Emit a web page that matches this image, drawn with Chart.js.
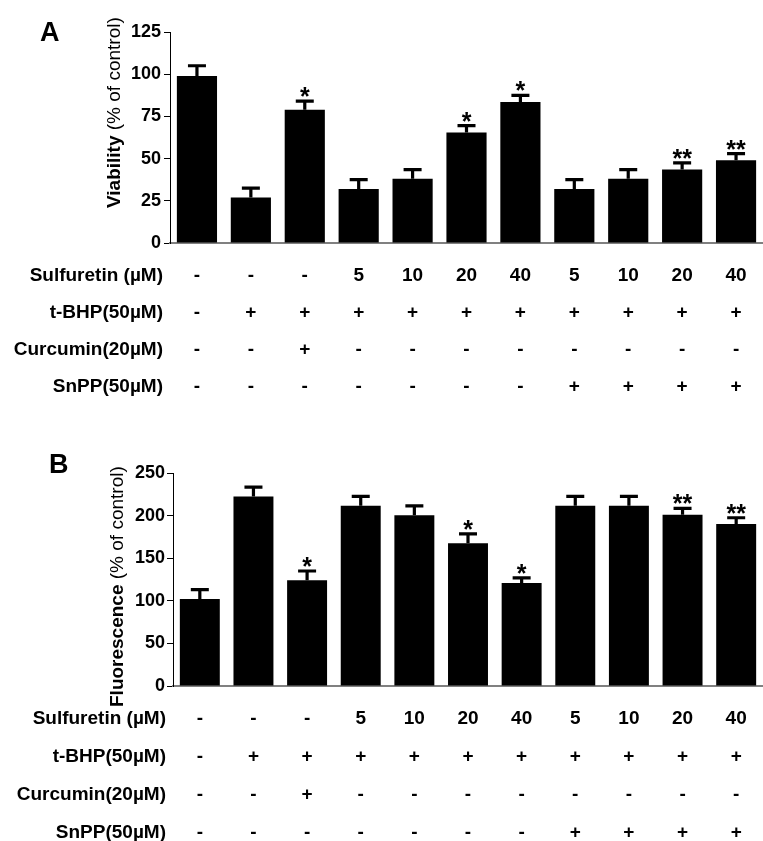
<!DOCTYPE html>
<html>
<head>
<meta charset="utf-8">
<script src="https://cdn.jsdelivr.net/npm/chart.js@4.4.0/dist/chart.umd.min.js"></script>
<style>
  body { margin: 0; background: #fff; }
  #wrap { position: relative; width: 763px; height: 841px; }
  canvas { position: absolute; left: 0; }
</style>
</head>
<body>
<div id="wrap">
  <canvas id="chartA" width="763" height="420" style="top:0px"></canvas>
  <canvas id="chartB" width="763" height="421" style="top:420px"></canvas>
</div>
<script>
// treatment groups (one bar each)
const groups = ['1', '2', '3', '4', '5', '6', '7', '8', '9', '10', '11'];

// treatment table under each panel
const sulfuretin = ['-', '-', '-', '5', '10', '20', '40', '5', '10', '20', '40'];
const tbhp       = ['-', '+', '+', '+', '+', '+', '+', '+', '+', '+', '+'];
const curcumin   = ['-', '-', '+', '-', '-', '-', '-', '-', '-', '-', '-'];
const snpp       = ['-', '-', '-', '-', '-', '-', '-', '+', '+', '+', '+'];

// panel A
const viability    = [99, 27, 79, 32, 38, 65.5, 83.5, 32, 38, 43.5, 49];
const viabilityErr = [6, 5.5, 5, 5.5, 5.5, 4, 4, 5.5, 5.5, 4, 4];
const viabilitySig = ['', '', '*', '', '', '*', '*', '', '', '**', '**'];
const viabilityTicks = [0, 25, 50, 75, 100, 125];

// panel B
const fluorescence    = [102, 222.5, 124, 211.5, 200.5, 167.5, 121, 211.5, 211.5, 201, 190];
const fluorescenceErr = [11, 11, 11, 11, 11, 11, 6, 11, 11, 7.5, 7.5];
const fluorescenceSig = ['', '', '*', '', '', '*', '*', '', '', '**', '**'];
const fluorescenceTicks = [0, 50, 100, 150, 200, 250];

const FONT = '"Liberation Sans", Arial, Helvetica, sans-serif';
Chart.defaults.color = '#000';
Chart.defaults.font.family = FONT;

const tableRows = [
    { label: 'Sulfuretin (\u00b5M)', values: sulfuretin },
    { label: 't-BHP(50\u00b5M)', values: tbhp },
    { label: 'Curcumin(20\u00b5M)', values: curcumin },
    { label: 'SnPP(50\u00b5M)', values: snpp }
];

function makePanel(id, cfg) {
    const panelPlugin = {
        id: 'panel_' + id,
        afterDatasetsDraw(chart) {
            const ctx = chart.ctx;
            const y = chart.scales.y;
            const bars = chart.getDatasetMeta(0).data;
            ctx.save();
            ctx.strokeStyle = '#000';
            ctx.fillStyle = '#000';
            ctx.lineWidth = 3.2;
            bars.forEach((bar, i) => {
                const top = y.getPixelForValue(cfg.values[i]);
                const cap = y.getPixelForValue(cfg.values[i] + cfg.err[i]);
                ctx.beginPath();
                ctx.moveTo(bar.x, top);
                ctx.lineTo(bar.x, cap);
                ctx.moveTo(bar.x - 9, cap);
                ctx.lineTo(bar.x + 9, cap);
                ctx.stroke();
                if (cfg.sig[i]) {
                    ctx.font = 'bold 25px ' + FONT;
                    ctx.textAlign = 'center';
                    ctx.textBaseline = 'alphabetic';
                    ctx.fillText(cfg.sig[i], bar.x, cap + 4);
                }
            });
            ctx.restore();
        },
        afterDraw(chart) {
            const ctx = chart.ctx;
            const area = chart.chartArea;
            const x = chart.scales.x;
            ctx.save();
            ctx.fillStyle = '#000';

            // panel letter
            ctx.font = 'bold 27px ' + FONT;
            ctx.textAlign = 'left';
            ctx.textBaseline = 'alphabetic';
            ctx.fillText(cfg.letter, cfg.letterX, cfg.letterY);

            // y title: bold word + plain unit
            ctx.translate(cfg.titleX, cfg.titleY);
            ctx.rotate(-Math.PI / 2);
            ctx.textBaseline = 'middle';
            ctx.font = 'bold 19px ' + FONT;
            ctx.fillText(cfg.titleBold, 0, 0);
            const w = ctx.measureText(cfg.titleBold).width;
            ctx.font = '19px ' + FONT;
            ctx.fillText(cfg.titleRest, w, 0);
            ctx.setTransform(1, 0, 0, 1, 0, 0);

            // treatment table
            ctx.font = 'bold 19px ' + FONT;
            ctx.textBaseline = 'middle';
            tableRows.forEach((row, r) => {
                const ty = area.bottom + cfg.rowTop + r * cfg.rowGap;
                ctx.textAlign = 'right';
                ctx.fillText(row.label, area.left - 7, ty);
                ctx.textAlign = 'center';
                row.values.forEach((v, i) => ctx.fillText(v, x.getPixelForValue(i), ty));
            });
            ctx.restore();
        }
    };

    return new Chart(document.getElementById(id), {
        type: 'bar',
        data: {
            labels: groups,
            datasets: [{
                data: cfg.values,
                backgroundColor: '#000',
                borderWidth: 0,
                barPercentage: 0.745,
                categoryPercentage: 1
            }]
        },
        options: {
            responsive: false,
            animation: false,
            devicePixelRatio: 1,
            layout: { padding: { top: cfg.padTop, bottom: cfg.padBottom, left: 0, right: 0 } },
            plugins: { legend: { display: false }, tooltip: { enabled: false } },
            scales: {
                x: {
                    offset: true,
                    grid: { display: false },
                    ticks: { display: false },
                    border: { color: '#808080', width: 2 },
                    afterFit: s => { s.height = 0; }
                },
                y: {
                    min: 0,
                    max: cfg.ticks[cfg.ticks.length - 1],
                    afterBuildTicks: s => { s.ticks = cfg.ticks.map(v => ({ value: v })); },
                    grid: { drawOnChartArea: false, drawTicks: true, tickLength: 6, color: '#000' },
                    border: { color: '#000', width: 1 },
                    ticks: { font: { size: 18, weight: 'bold' }, padding: cfg.tickPad, color: '#000' },
                    afterFit: s => { s.width = cfg.left; }
                }
            }
        },
        plugins: [panelPlugin]
    });
}

makePanel('chartA', {
    values: viability, err: viabilityErr, sig: viabilitySig, ticks: viabilityTicks,
    letter: 'A', letterX: 40, letterY: 41,
    titleBold: 'Viability', titleRest: ' (% of control)', titleX: 115, titleY: 208,
    left: 170, padTop: 32, padBottom: 177, tickPad: 3,
    rowTop: 33, rowGap: 37
});

makePanel('chartB', {
    values: fluorescence, err: fluorescenceErr, sig: fluorescenceSig, ticks: fluorescenceTicks,
    letter: 'B', letterX: 49, letterY: 53,
    titleBold: 'Fluorescence', titleRest: ' (% of control)', titleX: 118, titleY: 287,
    left: 173, padTop: 53, padBottom: 155, tickPad: 2,
    rowTop: 33, rowGap: 37.8
});
</script>
</body>
</html>
